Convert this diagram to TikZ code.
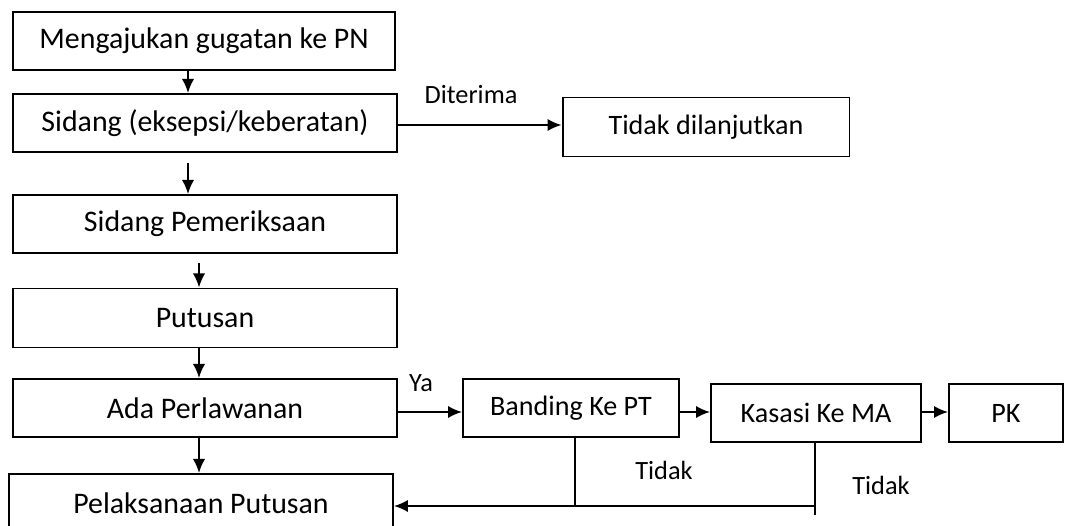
\documentclass[tikz,border=0pt]{standalone}
\usepackage{fontspec}
\setmainfont{Carlito}
\usetikzlibrary{arrows.meta}
\begin{document}
\begin{tikzpicture}[>={Latex[length=8pt,width=7pt]},x=0.02cm,y=-0.02cm,line width=1.1pt,
	box/.style={draw,fill=white,minimum height=1.16cm,inner sep=0pt,font=\fontsize{16}{19}\selectfont},
	mainbox/.style={box,minimum width=7.68cm,font=\fontsize{17}{20}\selectfont},
	lbl/.style={inner sep=0pt,font=\fontsize{15}{18}\selectfont}]

	\useasboundingbox (0,0) rectangle (1067,526);

	% main column
	\node [mainbox,minimum width=7.64cm] (gugat) at (204,41) {Mengajukan gugatan ke PN};
	\node [mainbox] (eksepsi) at (205,123) {Sidang (eksepsi/keberatan)};
	\node [mainbox] (periksa) at (205,224) {Sidang Pemeriksaan};
	\node [mainbox,minimum height=1.18cm] (putusan) at (205,318) {Putusan};
	\node [mainbox] (lawan) at (205,408) {Ada Perlawanan};
	\node [mainbox] (laksana) at (201,503) {Pelaksanaan Putusan};

	% right side
	\node [box,minimum width=5.74cm,minimum height=1.18cm] (stop) at (706,127) {Tidak dilanjutkan};
	\node [box,minimum width=4.32cm] (banding) at (571,408) {Banding Ke PT};
	\node [box,minimum width=4.2cm] (kasasi) at (816,413) {Kasasi Ke MA};
	\node [box,minimum width=2.28cm] (pk) at (1006,413) {PK};

	% labels
	\node [lbl] (diterima) at (471,95) {Diterima};
	\node [lbl] (ya) at (421,383) {Ya};
	\node [lbl] (tidak1) at (664,470) {Tidak};
	\node [lbl] (tidak2) at (881,485) {Tidak};

	% downward arrows
	\coordinate (a1) at (188,0);
	\coordinate (a2) at (199,0);
	\draw [->] (gugat.south -| a1) -- (eksepsi.north -| a1);
	\draw [->,shorten <=0.2cm] (eksepsi.south -| a1) -- (periksa.north -| a1);
	\draw [->,shorten <=0.18cm] (periksa.south -| a2) -- (putusan.north -| a2);
	\draw [->] (putusan.south -| a2) -- (lawan.north -| a2);
	\draw [->] (lawan.south -| a2) -- (laksana.north -| a2);

	% sideways arrows
	\coordinate (r1) at (0,125);
	\coordinate (r2) at (0,412);
	\draw [->] (eksepsi.east |- r1) -- (stop.west |- r1);
	\draw [->] (lawan.east |- r2) -- (banding.west |- r2);
	\draw [->] (banding.east |- r2) -- (kasasi.west |- r2);
	\draw [->] (kasasi.east |- r2) -- (pk.west |- r2);

	% back to pelaksanaan
	\coordinate (tb) at (575,506);
	\coordinate (tk) at (815,506);
	\draw (banding.south -| tb) -- (tb);
	\draw (kasasi.south -| tk) -- ([yshift=-5]tk);
	\draw [->] (tk) -- (laksana.east |- tk);
\end{tikzpicture}
\end{document}
